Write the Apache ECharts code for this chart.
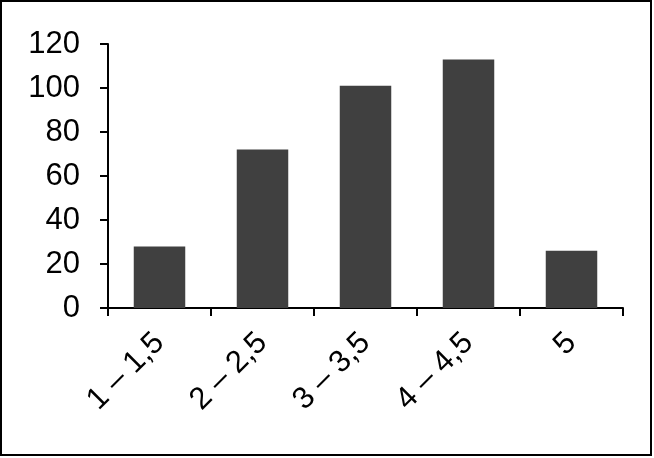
<!DOCTYPE html>
<html>
<head>
<meta charset="utf-8">
<script src="https://cdn.jsdelivr.net/npm/echarts@6/dist/echarts.min.js"></script>
<style>
html,body{margin:0;padding:0;background:#fff;}
#chart{width:654px;height:458px;}
</style>
</head>
<body>
<div id="chart"></div>
<script>
const categories = ['1 – 1,5', '2 – 2,5', '3 – 3,5', '4 – 4,5', '5'];
const values = [28, 72, 101, 113, 26];
const yTicks = { min: 0, max: 120, interval: 20 };

const chart = echarts.init(document.getElementById('chart'), null, { renderer: 'canvas' });
chart.setOption({
  animation: false,
  backgroundColor: '#fff',
  textStyle: { fontFamily: '"Liberation Sans", Arial, sans-serif' },
  graphic: [{
    type: 'rect',
    shape: { x: 1, y: 1, width: 650, height: 454 },
    style: { fill: 'none', stroke: '#000', lineWidth: 2 },
    z: 100
  }],
  grid: { left: 108, right: 31, top: 44, bottom: 150, containLabel: false },
  xAxis: {
    type: 'category',
    data: categories,
    axisLine: { show: true, lineStyle: { color: '#000', width: 2 } },
    axisTick: { show: true, length: 8, lineStyle: { color: '#000', width: 2 } },
    axisLabel: {
      rotate: 45,
      margin: 30,
      fontSize: 31,
      color: '#000',
      fontFamily: '"Liberation Sans", Arial, sans-serif'
    },
    splitLine: { show: false }
  },
  yAxis: {
    type: 'value',
    min: yTicks.min,
    max: yTicks.max,
    interval: yTicks.interval,
    axisLine: { show: true, lineStyle: { color: '#000', width: 2 } },
    axisTick: { show: true, length: 8, lineStyle: { color: '#000', width: 2 } },
    axisLabel: {
      margin: 28,
      fontSize: 31,
      color: '#000',
      fontFamily: '"Liberation Sans", Arial, sans-serif'
    },
    splitLine: { show: false }
  },
  series: [{
    type: 'bar',
    data: values,
    barCategoryGap: '50%',
    itemStyle: { color: '#404040' }
  }]
});
</script>
</body>
</html>
